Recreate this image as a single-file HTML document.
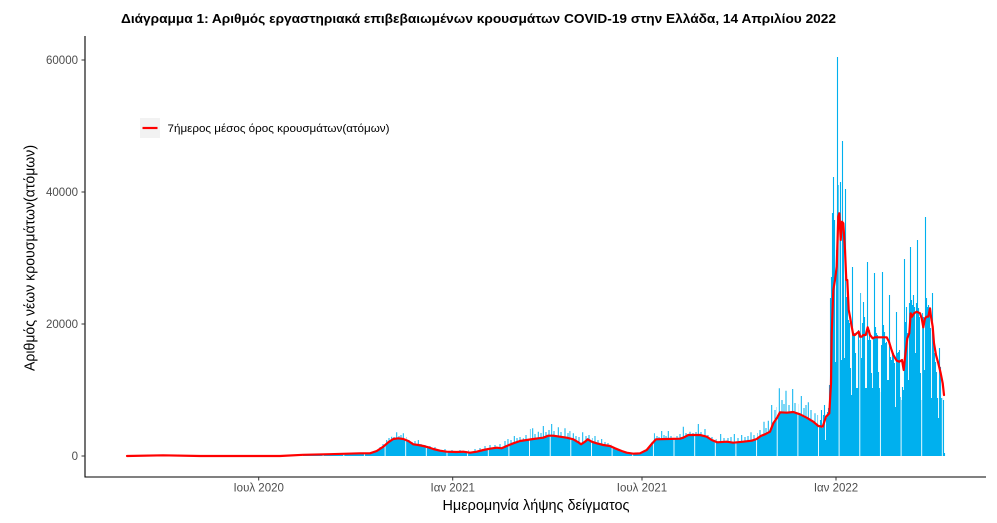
<!DOCTYPE html>
<html>
<head>
<meta charset="utf-8">
<style>
html,body{margin:0;padding:0;background:#fff;}
svg{display:block;}
text{font-family:"Liberation Sans","DejaVu Sans",sans-serif;}
</style>
</head>
<body>
<svg width="997" height="523" viewBox="0 0 997 523" xmlns="http://www.w3.org/2000/svg">
<rect x="0" y="0" width="997" height="523" fill="#fff"/>

<!-- title -->
<text x="121" y="23" font-size="13" font-weight="bold" fill="#000" textLength="715" lengthAdjust="spacingAndGlyphs">Διάγραμμα 1: Αριθμός εργαστηριακά επιβεβαιωμένων κρουσμάτων COVID-19 στην Ελλάδα, 14 Απριλίου 2022</text>

<!-- bulk bars -->
<polygon fill="#00B0EE" points="288,456 300,455.6 320,455.2 340,454.7 360,453.8 370,453.5 376.7,450.5 383.3,446 388.3,441.5 393.3,438.2 398.3,437.5 403.3,438.2 408.3,440.2 413.3,443.5 418.3,444.2 423.3,445.2 428.3,446.5 433.3,448.2 440,449.9 446.7,450.9 456.7,451.2 463.3,450.9 470,451.9 476.7,450.9 483.3,449.2 490,447.9 496.7,446.9 501.7,447.5 506.7,445.2 513.3,442.5 520,440.2 526.7,439.2 533.3,438.2 538.3,437.5 543.3,436.9 548.3,434.9 553.3,434.9 560,435.9 566.7,436.9 573.3,438.5 578.3,441.5 581,443.5 585,440.9 587.7,438.5 591.7,440.9 596.7,442.5 603.3,444.2 610,445.2 615,447.5 621.7,450.2 626.7,451.9 633.3,452.9 640,452.5 646.7,449.2 651.7,443.2 656,438.5 666.7,438.2 680,437.9 683.3,436.9 688.3,434.2 700,434.2 706.7,435.9 711.7,439.2 717.3,441.5 726.7,440.9 733.3,441.9 743.3,440.9 751.7,439.9 756.7,438.2 760.7,435.2 765,433.5 770,430.9 773.3,422.5 776.7,417.5 780,411.5 786.7,411.9 793.3,411.2 800,413.5 806.7,416.9 813.3,420.9 818.3,425.2 820.5,425.9 820.5,456"/>

<!-- spikes (earlier waves) -->
<path fill="none" stroke="#00B0EE" stroke-width="1" d="
M380 456V447M383 456V444M386.7 456V440M389 456V438M391.7 456V436.7M394 456V437M396.7 456V432.3M399 456V436M401 456V435M403.3 456V433.3M406 456V437M409 456V440M412 456V442M415 456V441M418.3 456V440M421 456V444M425 456V445M430 456V446M435 456V447
M445 456V449M452 456V450M460 456V450M468 456V450M475 456V449M480 456V448M485 456V446M490 456V445M495 456V445M500 456V444
M505 456V441M508 456V439M511 456V440M514.3 456V436M517 456V438M520 456V437M523.3 456V438.3M526 456V435M530 456V429M532.7 456V428.3M535 456V434M538.3 456V431.7M541 456V433M543.3 456V426M546 456V432M549 456V430M551.7 456V424M554 456V431M558.3 456V427.3M561 456V432M565 456V428.3M568 456V433M570 456V431M573.3 456V433.3M576 456V436M579 456V437M582.7 456V432.3M586 456V436M589 456V435M592 456V438M595 456V436M598 456V440M601.7 456V439M605 456V442M608 456V443M612 456V444
M652 456V442M654.3 456V433.3M657 456V436M659 456V437M661.7 456V431M664 456V435M666 456V436M668.3 456V431M671 456V436M674 456V434M677 456V436M680 456V434M683.3 456V426.7M686 456V433M690 456V431.7M693 456V433M696 456V432M698.3 456V424M701 456V432M705 456V429M708 456V435M712 456V437M716 456V439M720.7 456V434M724 456V438M728 456V438M731 456V437M734.3 456V434M738 456V438M741.7 456V435M745 456V437M748 456V436M751 456V432.3M754 456V435M757 456V433M760 456V430M764 456V421.7M766 456V428M768.3 456V420.7M771.7 456V405M775 456V410M777 456V407M779.3 456V388.3M782 456V400M784 456V404M786 456V390.7M789 456V405M792.7 456V389M795 456V403M798 456V404M801.3 456V396M804 456V408M806 456V405M808.3 456V402.3M811 456V410M815 456V413.3M818 456V415"/>

<!-- omicron bars -->
<path fill="none" stroke="#00B0EE" stroke-width="1.1" d="
M820.5 456V420M821.5 456V410M822.5 456V428M823.5 456V415M824.5 456V405M825.5 456V440M826.5 456V418M827.5 456V412M828.5 456V408M829.5 456V385
M830.5 456V298M831.5 456V277M832.5 456V213M833.5 456V177M834.5 456V220M835.5 456V362M836.5 456V250M837.5 456V57M838.5 456V185M839.5 456V220
M840.5 456V182M841.5 456V360M842.5 456V141M843.5 456V223M844.5 456V358M845.5 456V189M846.5 456V297M847.5 456V280M848.5 456V320M849.5 456V323
M850.5 456V368M851.5 456V395M852.5 456V267M853.5 456V335M854.5 456V333M855.5 456V353M856.5 456V388M857.5 456V388M858.5 456V330M859.5 456V340
M860.5 456V293M861.5 456V358M862.5 456V323M863.5 456V302M864.5 456V317M865.5 456V388M866.5 456V388M867.5 456V262M868.5 456V340M869.5 456V330
M870.5 456V340M871.5 456V373M872.5 456V388M873.5 456V338M874.5 456V273M875.5 456V327M876.5 456V333M877.5 456V335M878.5 456V372M879.5 456V388
M880.5 456V392M881.5 456V345M882.5 456V272M883.5 456V325M884.5 456V332M885.5 456V343M886.5 456V342M887.5 456V380M888.5 456V380M889.5 456V295
M890.5 456V357M891.5 456V360M892.5 456V352M893.5 456V353M894.5 456V363M895.5 456V407M896.5 456V312M897.5 456V353M898.5 456V352M899.5 456V350
M900.5 456V397M901.5 456V400M902.5 456V387M903.5 456V390M904.5 456V259M905.5 456V322M906.5 456V307M907.5 456V333M908.5 456V380M909.5 456V303
M910.5 456V247M911.5 456V300M912.5 456V305M913.5 456V295M914.5 456V307M915.5 456V353M916.5 456V303M917.5 456V240M918.5 456V308M919.5 456V317
M920.5 456V373M921.5 456V400M922.5 456V313M923.5 456V317M924.5 456V370M925.5 456V217M926.5 456V298M927.5 456V307M928.5 456V305M929.5 456V312
M930.5 456V328M931.5 456V398M932.5 456V293M933.5 456V338M934.5 456V353M935.5 456V362M936.5 456V372M937.5 456V398M938.5 456V418M939.5 456V348
M940.5 456V367M941.5 456V398M942.5 456V398M943.5 456V400M944.5 456V453"/>

<!-- aliasing white gaps -->
<path fill="none" stroke="#fff" stroke-width="0.9" d="
M302.5 40V456.5M323.1 40V456.5M343.8 40V456.5M364.4 40V456.5M385.1 40V456.5M405.7 40V456.5M426.3 40V456.5M447 40V456.5M467.6 40V456.5M488.3 40V456.5M508.9 40V456.5M529.5 40V456.5M550.2 40V456.5M570.8 40V456.5M591.5 40V456.5M612.1 40V456.5M632.7 40V456.5M653.4 40V456.5M674 40V456.5M694.7 40V456.5M715.3 40V456.5M735.9 40V456.5M756.6 40V456.5M777.2 40V456.5M797.9 40V456.5M818.5 40V456.5M839.1 40V456.5M859.8 40V456.5M880.4 40V456.5M901.1 40V456.5M921.7 40V456.5M942.3 40V456.5"/>

<!-- 7-day mean -->
<polyline fill="none" stroke="#FF0000" stroke-width="2.2" stroke-linejoin="round" stroke-linecap="round" points="127,456 163,455.3 200,456 280,456 303,454.8 330,454.2 360,453.3 370,453.3 376.7,451 383.3,446.7 388.3,442.3 393.3,439 398.3,438.3 403.3,439 408.3,441 413.3,444.3 418.3,445 423.3,446 428.3,447.3 433.3,449 440,450.7 446.7,451.7 456.7,452 463.3,451.7 470,452.7 476.7,451.7 483.3,450 490,448.7 496.7,447.7 501.7,448.3 506.7,446 513.3,443.3 520,441 526.7,440 533.3,439 538.3,438.3 543.3,437.7 548.3,435.7 553.3,435.7 560,436.7 566.7,437.7 573.3,439.3 578.3,442.3 581,444.3 585,441.7 587.7,439.3 591.7,441.7 596.7,443.3 603.3,445 610,446 615,448.3 621.7,451 626.7,452.7 633.3,453.7 640,453.3 646.7,450 651.7,444 656,439.3 666.7,439 680,438.7 683.3,437.7 688.3,435 700,435 706.7,436.7 711.7,440 717.3,442.3 726.7,441.7 733.3,442.7 743.3,441.7 751.7,440.7 756.7,439 760.7,436 765,434.3 770,431.7 773.3,423.3 776.7,418.3 780,412.3 786.7,412.7 793.3,412 800,414.3 806.7,417.7 813.3,421.7 818.3,426 822.7,426.7 826,416.7 829.3,413.3 831,383.3 831.7,333.3 833.3,290 835,280 836.7,266.7 838.3,216.7 839.3,213.3 840.7,240 842,221.7 843.3,223.3 845,250 846.3,280 847.3,280 848.7,310 850,316.7 851.7,326.7 853.3,335 855,335 856.7,333.3 858.7,331.7 860,336.7 861.7,336.7 863.3,335 865.7,335 867.7,327.3 870,335 872.7,338.3 875,337.3 886.7,337.3 889,341.7 891,348.3 893.3,355 896.7,360.7 899.3,361.7 902,360 903.7,370 905.3,355 907.3,338.3 909.3,333.3 910.7,313.3 912,316.7 914,313.3 916.7,311.7 920,313.3 921.7,318.3 923.3,327.3 925,318.3 926.7,316.7 928.3,316.7 930,308.3 931,316.7 932.7,326.7 934,343.3 936,355 938.3,363.3 940.7,373.3 942.7,383.3 944,395"/>

<!-- axes -->
<line x1="85" y1="36" x2="85" y2="477.5" stroke="#000" stroke-width="1.1"/>
<line x1="84.5" y1="477" x2="986" y2="477" stroke="#000" stroke-width="1.1"/>

<!-- y ticks -->
<g stroke="#333" stroke-width="1">
<line x1="81.5" y1="60" x2="85" y2="60"/>
<line x1="81.5" y1="192" x2="85" y2="192"/>
<line x1="81.5" y1="324" x2="85" y2="324"/>
<line x1="81.5" y1="456" x2="85" y2="456"/>
<line x1="258.7" y1="477" x2="258.7" y2="480.5"/>
<line x1="452.7" y1="477" x2="452.7" y2="480.5"/>
<line x1="642" y1="477" x2="642" y2="480.5"/>
<line x1="836" y1="477" x2="836" y2="480.5"/>
</g>
<g font-size="11.5" fill="#4d4d4d" text-anchor="end">
<text x="78" y="64.2">60000</text>
<text x="78" y="196.2">40000</text>
<text x="78" y="328.2">20000</text>
<text x="78" y="460.2">0</text>
</g>
<g font-size="11.5" fill="#4d4d4d" text-anchor="middle">
<text x="258.7" y="491.5">Ιουλ 2020</text>
<text x="452.7" y="491.5">Ιαν 2021</text>
<text x="642" y="491.5">Ιουλ 2021</text>
<text x="836" y="491.5">Ιαν 2022</text>
</g>

<!-- axis titles -->
<text x="536" y="510" font-size="14.5" fill="#000" text-anchor="middle" textLength="187" lengthAdjust="spacingAndGlyphs">Ημερομηνία λήψης δείγματος</text>
<text transform="translate(34.5,258) rotate(-90)" x="0" y="0" font-size="14.5" fill="#000" text-anchor="middle" textLength="226" lengthAdjust="spacingAndGlyphs">Αριθμός νέων κρουσμάτων(ατόμων)</text>

<!-- legend -->
<rect x="140" y="118" width="20" height="20" fill="#f2f2f2"/>
<line x1="142.5" y1="128" x2="157.5" y2="128" stroke="#FF0000" stroke-width="2.2"/>
<text x="167.5" y="132.2" font-size="11" fill="#000" textLength="222" lengthAdjust="spacingAndGlyphs">7ήμερος μέσος όρος κρουσμάτων(ατόμων)</text>
</svg>
</body>
</html>
